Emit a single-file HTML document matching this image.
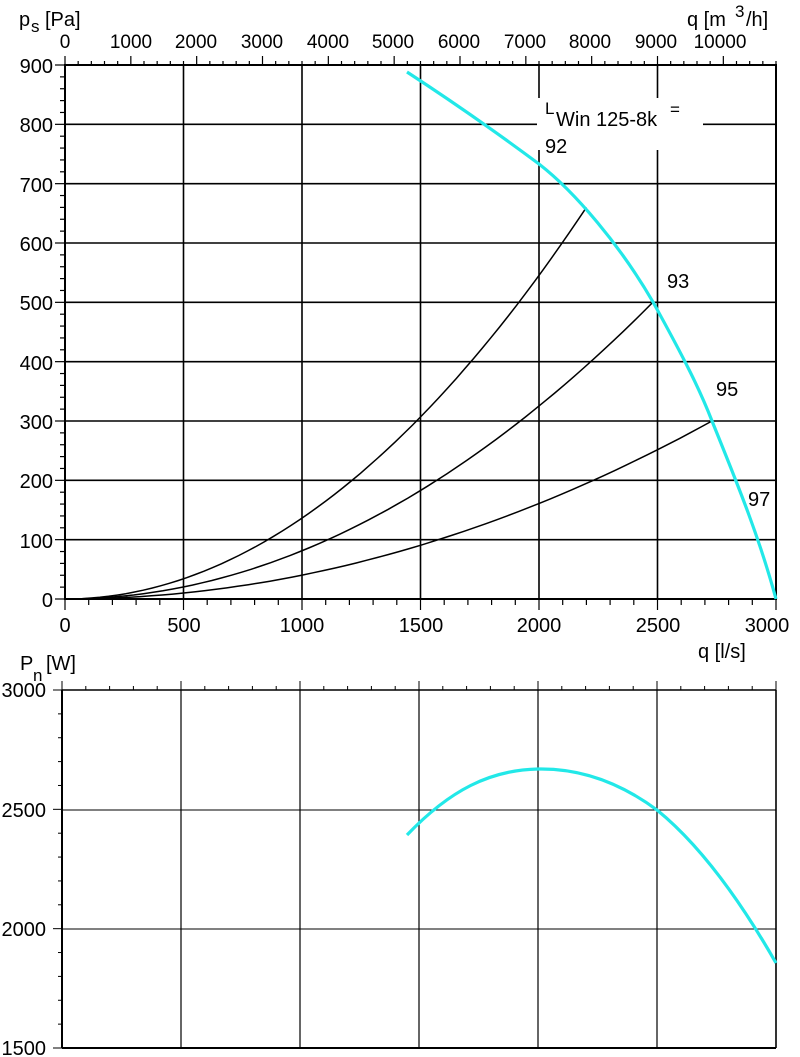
<!DOCTYPE html>
<html><head><meta charset="utf-8"><style>
body{margin:0;background:#fff}
svg{display:block;font-family:"Liberation Sans",Arial,sans-serif}
text{font-size:20px}
text.s{font-size:17px}
text.t{font-size:19px}
</style></head><body>
<svg id="s" width="800" height="1057" xmlns="http://www.w3.org/2000/svg">
<g id="g"></g>
<g fill="#000">
<text x="19" y="26">p</text><text class="s" x="31" y="32">s</text><text x="45" y="26">[Pa]</text>
<text x="687" y="26">q [m</text><text class="s" x="735" y="17">3</text><text x="746" y="26">/h]</text>
<g text-anchor="middle">
<text class="t" x="65" y="48">0</text><text class="t" x="131" y="48">1000</text><text class="t" x="196" y="48">2000</text><text class="t" x="262" y="48">3000</text><text class="t" x="328" y="48">4000</text><text class="t" x="393" y="48">5000</text><text class="t" x="459" y="48">6000</text><text class="t" x="525" y="48">7000</text><text class="t" x="590" y="48">8000</text><text class="t" x="656" y="48">9000</text><text class="t" x="720" y="48">10000</text>
</g>
<g text-anchor="end">
<text x="53" y="73">900</text><text x="53" y="132">800</text><text x="53" y="192">700</text><text x="53" y="251">600</text><text x="53" y="310">500</text><text x="53" y="370">400</text><text x="53" y="429">300</text><text x="53" y="488">200</text><text x="53" y="548">100</text><text x="53" y="607">0</text>
</g>
<g text-anchor="middle">
<text x="65" y="632">0</text><text x="184" y="632">500</text><text x="302" y="632">1000</text><text x="421" y="632">1500</text><text x="539" y="632">2000</text><text x="658" y="632">2500</text><text x="767" y="632">3000</text>
</g>
<text x="698" y="658">q [l/s]</text>
<rect x="537" y="98" width="166" height="52" fill="#fff"/>
<text class="s" x="545" y="114">L</text><text x="556" y="126">Win 125-8k</text><text class="s" x="670" y="115">=</text>
<text x="545" y="153">92</text>
<text x="667" y="288">93</text>
<text x="716" y="396">95</text>
<text x="748" y="506">97</text>
<text x="20" y="670">P</text><text class="s" x="33" y="681">n</text><text x="46" y="670">[W]</text>
<g text-anchor="end">
<text x="46" y="697">3000</text><text x="46" y="817">2500</text><text x="46" y="936">2000</text><text x="46" y="1055">1500</text>
</g>
</g>
</svg>
<script>
var g=document.getElementById('g'),h='';
function L(x1,y1,x2,y2,w,c){h+='<line x1="'+x1+'" y1="'+y1+'" x2="'+x2+'" y2="'+y2+'" stroke="'+(c||'#000')+'" stroke-width="'+(w||1)+'"/>';}
var X=function(q){return 65+q*711/3000},Y=function(p){return 599-p*534/900};
for(var p=100;p<900;p+=100)L(65,Y(p),776,Y(p),1.6);
for(var q=500;q<3000;q+=500)L(X(q),65,X(q),599,1.6);
for(var m=0;m<=10800;m+=200){var x=X(m/3.6);L(x,65,x,m%1000==0?56:61,1.2);}
for(var p=0;p<=900;p+=20)L(p%100==0?55:60,Y(p),65,Y(p),1.2);
for(var q=0;q<=3000;q+=100)L(X(q),599,X(q),q%500==0?610:605,1.2);
h+='<rect x="65" y="65" width="711" height="534" fill="none" stroke="#000" stroke-width="2"/>';
[[2200,660],[2480,500],[2730,300]].forEach(function(e){var k=e[1]/e[0]/e[0],d='';for(var i=0;i<=60;i++){var q=e[0]*i/60;d+=(i?'L':'M')+X(q).toFixed(1)+','+Y(k*q*q).toFixed(1);}h+='<path d="'+d+'" fill="none" stroke="#000" stroke-width="1.5"/>';});
h+='<path d="M407,72 C450,100 500,135 539,164 C575,192 620,245 653,302 C685,360 700,390 712,421 C740,490 760,540 776,599" fill="none" stroke="#22e8e8" stroke-width="3.2"/>';
var X2=function(q){return 62+q*714/3000};
L(62,810,776,810,1);L(62,929,776,929,1);
for(var q=500;q<3000;q+=500)L(X2(q),690,X2(q),1048,1.2);
for(var q=0;q<=3000;q+=100)L(X2(q),690,X2(q),q%500==0?681:686,1);
for(var w=1500;w<=3000;w+=100)L(w%500==0?53:58,1048-(w-1500)*358/1500,62,1048-(w-1500)*358/1500,1);
L(62,690,776,690,1.6);L(776,690,776,1048,1.6);L(62,690,62,1048,2);L(62,1048,776,1048,2);
h+='<path d="M407,835 C450,790 490,770 538,769 C590,768 630,790 657,810 C700,845 740,900 776,963" fill="none" stroke="#22e8e8" stroke-width="3.2"/>';
g.innerHTML=h;
</script>
</body></html>
